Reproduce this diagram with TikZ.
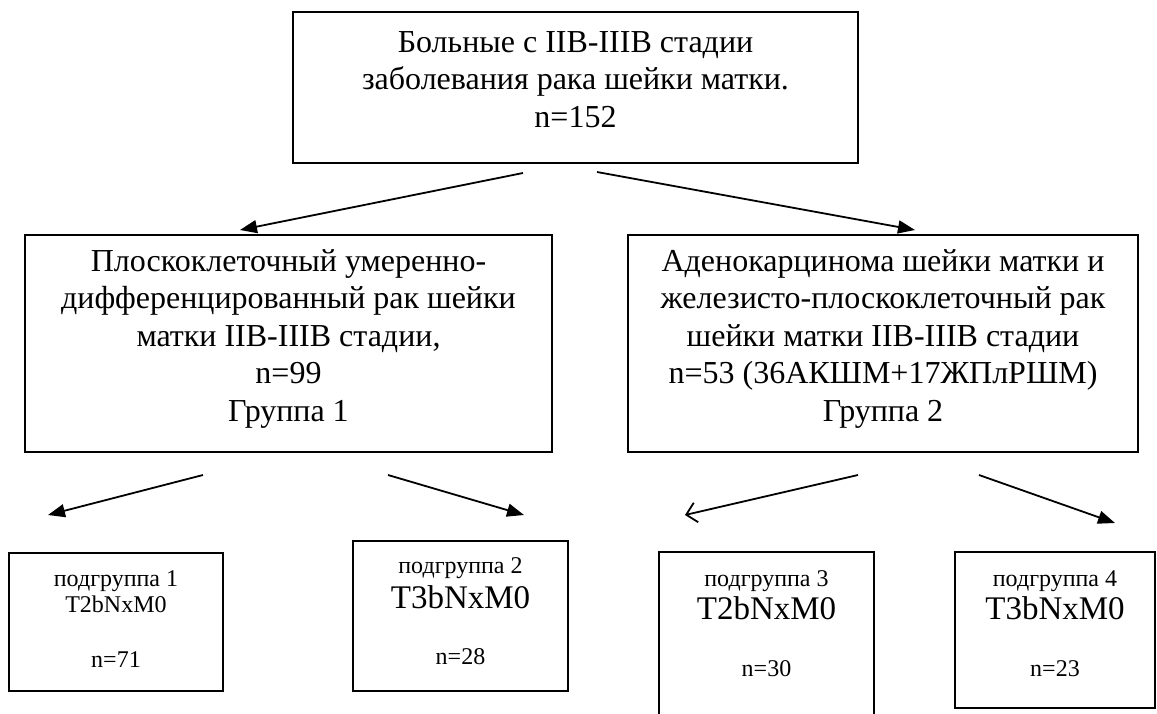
\documentclass[tikz,border=0pt]{standalone}
\usepackage{fontspec}
\setmainfont{Liberation Serif}
\usetikzlibrary{arrows.meta}
\begin{document}
\begin{tikzpicture}[x=1pt,y=-1pt,
  box/.style={draw, line width=1.8pt, inner sep=0pt},
  big/.style={font=\fontsize{32}{38}\selectfont, inner sep=0pt, anchor=base},
  mid/.style={font=\fontsize{33}{38}\selectfont, inner sep=0pt, anchor=base},
  small/.style={font=\fontsize{24}{28}\selectfont, inner sep=0pt, anchor=base},
  conn/.style={line width=1.8pt, -{Triangle[length=17pt,width=13pt]}},
  openconn/.style={line width=1.8pt, -{Straight Barb[length=10pt,width=20pt,line width=1.8pt]}}]
\clip (0,0) rectangle (1157,713);
% boxes
\node[box, minimum width=565pt, minimum height=151pt] (top) at (575.5,87.5) {};
\node[box, minimum width=527pt, minimum height=217pt] (g1) at (288.5,343.5) {};
\node[box, minimum width=510pt, minimum height=217pt] (g2) at (883,343.5) {};
\node[box, minimum width=214pt, minimum height=138pt] (s1) at (116,622) {};
\node[box, minimum width=215pt, minimum height=150pt] (s2) at (460.5,616) {};
\node[box, minimum width=215pt, minimum height=176pt] (s3) at (766.5,640) {};
\node[box, minimum width=200pt, minimum height=156pt] (s4) at (1055,630) {};
% top text
\node[big] (t1) at (575.5,52) {Больные с IIB-IIIB стадии};
\node[big] (t2) at (575.5,89.5) {заболевания рака шейки матки.};
\node[big] (t3) at (575.5,127) {n=152};
% group 1
\node[big] (g1a) at (288.5,271) {Плоскоклеточный умеренно-};
\node[big] (g1b) at (288.5,308.5) {дифференцированный рак шейки};
\node[big] (g1c) at (288.5,346) {матки IIB-IIIB стадии,};
\node[big] (g1d) at (288.5,383.5) {n=99};
\node[big] (g1e) at (288.5,421) {Группа 1};
% group 2
\node[big] (g2a) at (883,271) {Аденокарцинома шейки матки и};
\node[big] (g2b) at (883,308.5) {железисто-плоскоклеточный рак};
\node[big] (g2c) at (883,346) {шейки матки IIB-IIIB стадии};
\node[big] (g2d) at (883,383.5) {n=53 (36АКШМ+17ЖПлРШМ)};
\node[big] (g2e) at (883,421) {Группа 2};
% subgroups
\node[small] (s1a) at (116,586) {подгруппа 1};
\node[small] (s1b) at (116,612) {T2bNxM0};
\node[small] (s1c) at (116,667) {n=71};
\node[small] (s2a) at (460.5,573) {подгруппа 2};
\node[mid] (s2b) at (460.5,608) {T3bNxM0};
\node[small] (s2c) at (460.5,664) {n=28};
\node[small] (s3a) at (766.5,586) {подгруппа 3};
\node[mid] (s3b) at (766.5,619) {T2bNxM0};
\node[small] (s3c) at (766.5,676) {n=30};
\node[small] (s4a) at (1055,586) {подгруппа 4};
\node[mid] (s4b) at (1055,619) {T3bNxM0};
\node[small] (s4c) at (1055,676) {n=23};
% connectors
\coordinate (a1s) at (523,173); \coordinate (a1e) at (240,230);
\coordinate (a2s) at (597,172); \coordinate (a2e) at (915,230);
\coordinate (b1s) at (203,475); \coordinate (b1e) at (48,515);
\coordinate (b2s) at (388,475); \coordinate (b2e) at (524,515);
\coordinate (b3s) at (858,475); \coordinate (b3e) at (685,515);
\coordinate (b4s) at (979,475); \coordinate (b4e) at (1115,523);
\draw[conn] (a1s) -- (a1e);
\draw[conn] (a2s) -- (a2e);
\draw[conn] (b1s) -- (b1e);
\draw[conn] (b2s) -- (b2e);
\draw[openconn] (b3s) -- (b3e);
\draw[conn] (b4s) -- (b4e);
\end{tikzpicture}
\end{document}
